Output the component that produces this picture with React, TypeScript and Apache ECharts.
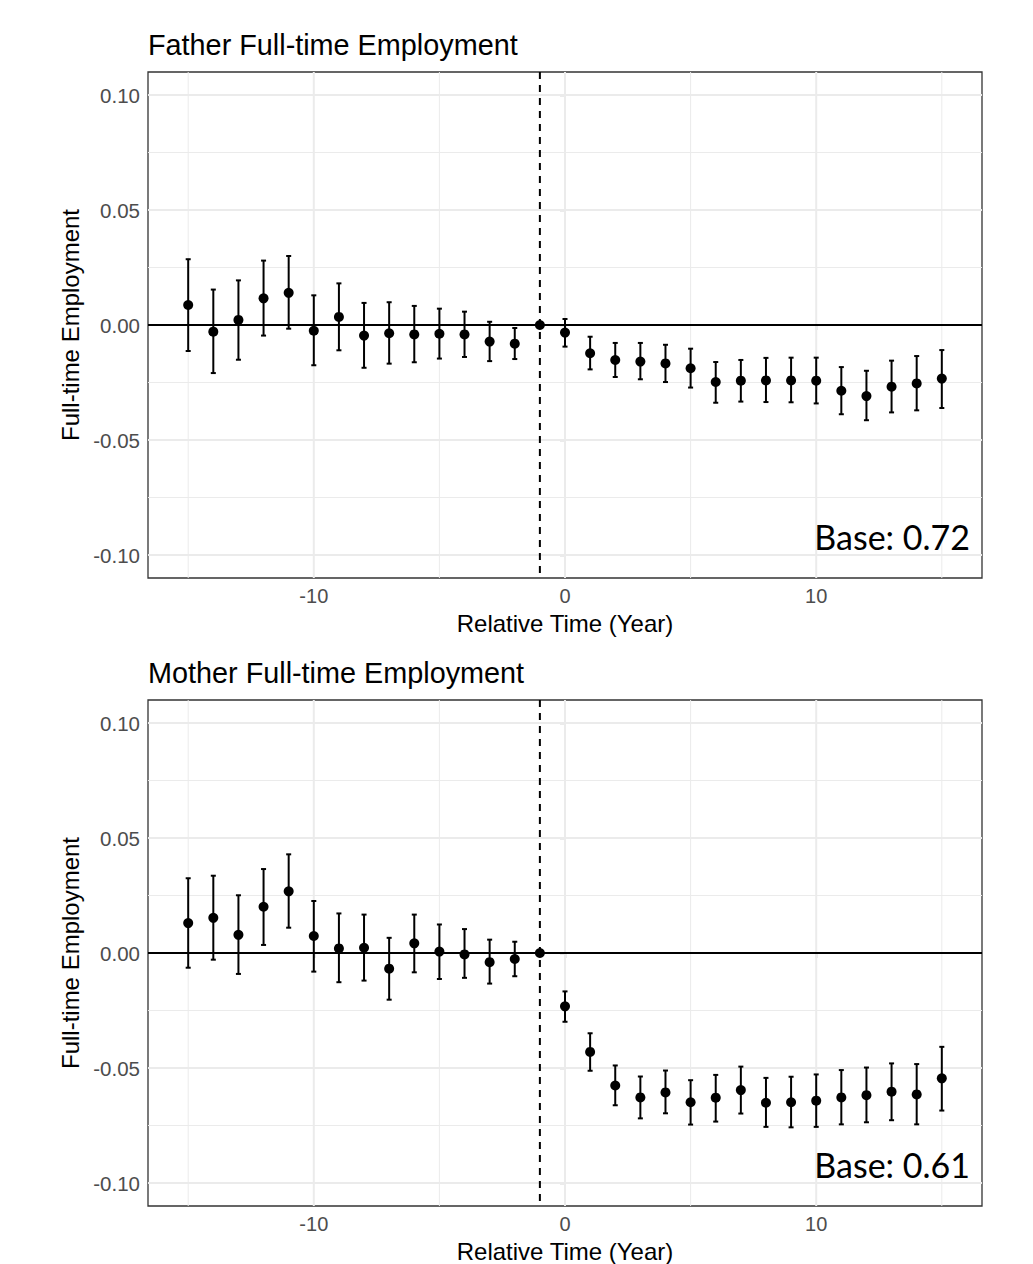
import React, { useEffect, useRef } from "react";
import * as echarts from "echarts";

const relTime = [-15, -14, -13, -12, -11, -10, -9, -8, -7, -6, -5, -4, -3, -2, -1, 0, 1, 2, 3, 4, 5, 6, 7, 8, 9, 10, 11, 12, 13, 14, 15];

const fatherEst = [0.0087, -0.0029, 0.0022, 0.0116, 0.014, -0.0025, 0.0035, -0.0046, -0.0036, -0.0041, -0.0038, -0.0041, -0.0072, -0.0081, 0, -0.0033, -0.0123, -0.0152, -0.0159, -0.0167, -0.0188, -0.0248, -0.0242, -0.0241, -0.0241, -0.0242, -0.0286, -0.0309, -0.0268, -0.0254, -0.0233];
const fatherHi = [0.0286, 0.0154, 0.0194, 0.028, 0.03, 0.0129, 0.0181, 0.0096, 0.0099, 0.0083, 0.0071, 0.0058, 0.0014, -0.0013, null, 0.0026, -0.0051, -0.0078, -0.0078, -0.0086, -0.0103, -0.0161, -0.0152, -0.0143, -0.0142, -0.0142, -0.0183, -0.0199, -0.0155, -0.0135, -0.0109];
const fatherLo = [-0.0113, -0.0209, -0.0151, -0.0046, -0.0016, -0.0175, -0.011, -0.0186, -0.0168, -0.0162, -0.0146, -0.0139, -0.0157, -0.0148, null, -0.0094, -0.0193, -0.0226, -0.0236, -0.0248, -0.0272, -0.0338, -0.0333, -0.0335, -0.0336, -0.0341, -0.0388, -0.0414, -0.038, -0.0371, -0.0361];

const motherEst = [0.013, 0.0153, 0.0079, 0.0201, 0.0268, 0.0074, 0.002, 0.0023, -0.0068, 0.0042, 0.0006, -0.0006, -0.004, -0.0026, 0, -0.0232, -0.043, -0.0576, -0.0628, -0.0606, -0.0649, -0.0629, -0.0596, -0.0651, -0.0649, -0.0642, -0.0628, -0.0618, -0.0603, -0.0615, -0.0545];
const motherHi = [0.0325, 0.0336, 0.0251, 0.0365, 0.0429, 0.0226, 0.0172, 0.0167, 0.0066, 0.0167, 0.0124, 0.0104, 0.0058, 0.0049, null, -0.0167, -0.0349, -0.0489, -0.0537, -0.0511, -0.0553, -0.053, -0.0494, -0.0543, -0.0538, -0.0528, -0.0509, -0.0498, -0.048, -0.0483, -0.0408];
const motherLo = [-0.0064, -0.0029, -0.0091, 0.0035, 0.011, -0.0081, -0.0127, -0.012, -0.0203, -0.0084, -0.0113, -0.0108, -0.0133, -0.0101, null, -0.0299, -0.0512, -0.0662, -0.0719, -0.0697, -0.0746, -0.0733, -0.0698, -0.0756, -0.0758, -0.0756, -0.0745, -0.0736, -0.0727, -0.0745, -0.0685];

const xTicks = [-10, 0, 10];
const xMinor = [-15, -5, 5, 15];
const yTicks = [-0.1, -0.05, 0, 0.05, 0.1];
const yMinor = [-0.075, -0.025, 0.025, 0.075];
const eventTime = -1;

const panelTitles = ["Father Full-time Employment", "Mother Full-time Employment"];
const baseLabels = ["Base: 0.72", "Base: 0.61"];
const xTitle = "Relative Time (Year)";
const yTitle = "Full-time Employment";

const FONT = "'Liberation Sans', Arial, sans-serif";

export default function App() {
  const ref = useRef<HTMLDivElement>(null);

  useEffect(() => {
    document.body.style.margin = "0";
    if (!ref.current) return;
    const chart = echarts.init(ref.current, undefined, { renderer: "svg" });

    const grids = [
      { left: 148, top: 72, width: 834, height: 506 },
      { left: 148, top: 700, width: 834, height: 507 },
    ];

    const panels = [
      { est: fatherEst, lo: fatherLo, hi: fatherHi },
      { est: motherEst, lo: motherLo, hi: motherHi },
    ];

    const xAxes = grids.map((_, i) => ({
      type: "value",
      gridIndex: i,
      min: -16.6,
      max: 16.6,
      name: xTitle,
      nameLocation: "middle",
      nameGap: 33,
      nameTextStyle: { fontFamily: FONT, fontSize: 24, color: "#000" },
      axisLine: { show: false },
      splitLine: { show: false },
      axisTick: { show: true, customValues: xTicks, length: 5, lineStyle: { color: "#333", width: 1.2 } },
      axisLabel: { customValues: xTicks, fontFamily: FONT, fontSize: 20, color: "#4D4D4D", margin: 8, formatter: (v: number) => String(v) },
    }));

    const yAxes = grids.map((_, i) => ({
      type: "value",
      gridIndex: i,
      min: -0.11,
      max: 0.11,
      name: yTitle,
      nameLocation: "middle",
      nameGap: 63,
      nameRotate: 90,
      nameTextStyle: { fontFamily: FONT, fontSize: 24, color: "#000" },
      axisLine: { show: false },
      splitLine: { show: false },
      axisTick: { show: true, customValues: yTicks, length: 5, lineStyle: { color: "#333", width: 1.2 } },
      axisLabel: { customValues: yTicks, fontFamily: FONT, fontSize: 20.5, color: "#4D4D4D", margin: 8, formatter: (v: number) => v.toFixed(2) },
    }));

    const vLine = (width: number, color: string, dash?: number[]) => (params: any, api: any) => {
      const cs = params.coordSys;
      const p = api.coord([api.value(0), 0]);
      return {
        type: "line",
        shape: { x1: p[0], y1: cs.y, x2: p[0], y2: cs.y + cs.height },
        style: { stroke: color, lineWidth: width, lineDash: dash },
      };
    };
    const hLine = (width: number, color: string) => (params: any, api: any) => {
      const cs = params.coordSys;
      const p = api.coord([0, api.value(1)]);
      return {
        type: "line",
        shape: { x1: cs.x, y1: p[1], x2: cs.x + cs.width, y2: p[1] },
        style: { stroke: color, lineWidth: width },
      };
    };

    const errBar = (params: any, api: any) => {
      const x = api.value(0);
      const lo = api.value(1);
      const hi = api.value(2);
      const top = api.coord([x, hi]);
      const bot = api.coord([x, lo]);
      const l = api.coord([x - 0.1, hi])[0];
      const r = api.coord([x + 0.1, hi])[0];
      const st = { stroke: "#000", lineWidth: 2 };
      return {
        type: "group",
        children: [
          { type: "line", shape: { x1: top[0], y1: top[1], x2: bot[0], y2: bot[1] }, style: st },
          { type: "line", shape: { x1: l, y1: top[1], x2: r, y2: top[1] }, style: st },
          { type: "line", shape: { x1: l, y1: bot[1], x2: r, y2: bot[1] }, style: st },
        ],
      };
    };

    const series: any[] = [];
    panels.forEach((p, i) => {
      const axes = { xAxisIndex: i, yAxisIndex: i };
      series.push({ type: "custom", ...axes, z: 1, silent: true, renderItem: vLine(1, "#EBEBEB"), data: xMinor.map((v) => [v, 0]), encode: { x: 0, y: 1 } });
      series.push({ type: "custom", ...axes, z: 1, silent: true, renderItem: hLine(1, "#EBEBEB"), data: yMinor.map((v) => [0, v]), encode: { x: 0, y: 1 } });
      series.push({ type: "custom", ...axes, z: 2, silent: true, renderItem: vLine(2, "#EBEBEB"), data: xTicks.map((v) => [v, 0]), encode: { x: 0, y: 1 } });
      series.push({ type: "custom", ...axes, z: 2, silent: true, renderItem: hLine(2, "#EBEBEB"), data: yTicks.map((v) => [0, v]), encode: { x: 0, y: 1 } });
      series.push({ type: "custom", ...axes, z: 3, silent: true, renderItem: hLine(2, "#000"), data: [[0, 0]], encode: { x: 0, y: 1 } });
      series.push({ type: "custom", ...axes, z: 3, silent: true, renderItem: vLine(2, "#000", [7, 6]), data: [[eventTime, 0]], encode: { x: 0, y: 1 } });
      const eb = relTime
        .map((t, k) => (p.lo[k] === null ? null : [t, p.lo[k], p.hi[k]]))
        .filter((d) => d !== null);
      series.push({ type: "custom", ...axes, z: 4, silent: true, renderItem: errBar, data: eb, encode: { x: 0, y: [1, 2] } });
      series.push({
        type: "scatter",
        ...axes,
        z: 5,
        symbol: "circle",
        symbolSize: 10,
        itemStyle: { color: "#000", opacity: 1 },
        data: relTime.map((t, k) => [t, p.est[k]]),
      });
    });

    const graphics: any[] = [];
    grids.forEach((g, i) => {
      graphics.push({
        type: "text",
        x: 148,
        y: g.top - 27,
        style: { text: panelTitles[i], font: `28.8px ${FONT}`, fill: "#000", textAlign: "left", textVerticalAlign: "middle" },
      });
      graphics.push({
        type: "text",
        x: 970,
        y: g.top + 464,
        z: 10,
        style: { text: baseLabels[i], font: `34px Lato, 'Open Sans', sans-serif`, fill: "#000", textAlign: "right", textVerticalAlign: "middle" },
      });
    });

    chart.setOption({
      animation: false,
      backgroundColor: "#fff",
      grid: grids.map((g) => ({ ...g, show: true, borderColor: "#333333", borderWidth: 1.3, backgroundColor: "transparent", containLabel: false })),
      xAxis: xAxes,
      yAxis: yAxes,
      series,
      graphic: graphics,
    });

    return () => chart.dispose();
  }, []);

  return <div ref={ref} style={{ width: 1033, height: 1264 }} />;
}
